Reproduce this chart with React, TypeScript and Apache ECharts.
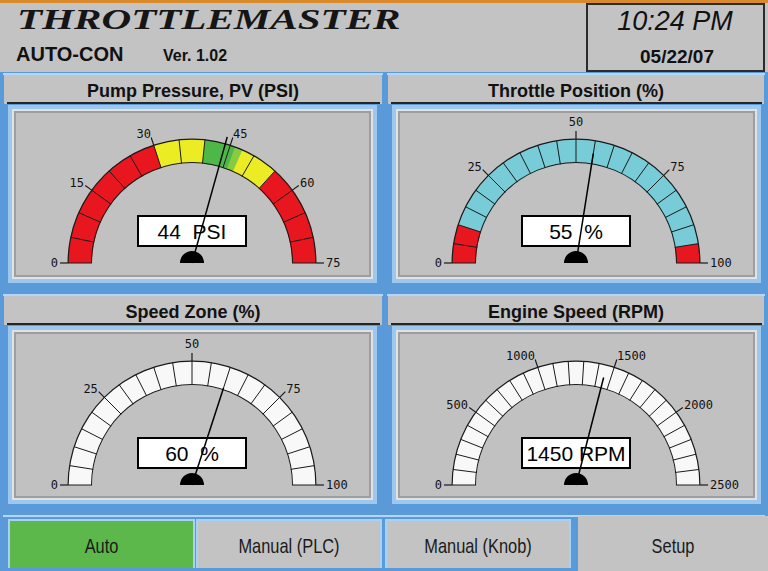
import React, { useEffect, useRef } from 'react';
import * as echarts from 'echarts';

// ---------- data ----------
const gaugeTitles = ['Pump Pressure, PV (PSI)', 'Throttle Position (%)', 'Speed Zone (%)', 'Engine Speed (RPM)'];
const gaugeValues = [44, 55, 60, 1450];
const gaugeMax = [75, 100, 100, 2500];
const majorStep = [15, 25, 25, 500];
const segmentStep = [5, 5, 5, 100];
const gaugeUnits = ['PSI', '%', '%', 'RPM'];
const unitGaps = ['  ', '  ', '  ', ' '];

const RED = '#e8161e';
const YELLOW = '#ecec24';
const GREEN = '#4db848';
const LIGHTGREEN = '#86cc3e';
const CYAN = '#78ccd8';
const WHITE = '#f8f8f8';

const pumpZones: [number, string][] = [[30, RED], [40, YELLOW], [46, GREEN], [47.5, LIGHTGREEN], [55, YELLOW], [75, RED]];
const throttleZones: [number, string][] = [[10, RED], [95, CYAN], [100, RED]];
const speedZones: [number, string][] = [[100, WHITE]];
const engineZones: [number, string][] = [[2500, WHITE]];
const gaugeZones = [pumpZones, throttleZones, speedZones, engineZones];

const headerTitle = 'THROTTLEMASTER';
const productName = 'AUTO-CON';
const versionText = 'Ver. 1.02';
const clockTime = '10:24 PM';
const clockDate = '05/22/07';
const buttonLabels = ['Auto', 'Manual (PLC)', 'Manual (Knob)', 'Setup'];
const activeButton = 0;

// ---------- layout (styles, not data) ----------
const centers = [[192, 263], [576, 263], [192, 485], [576, 485]];
const needleLen = [131, 111, 102, 111];
const boxes = [[12, 109], [396, 109], [12, 330], [396, 330]];
const BOX_W = 361;
const BOX_H = 170;
const panels = [[0, 72, 386, 221], [384, 72, 384, 221], [0, 293, 386, 220], [384, 293, 384, 220]];
const buttonRects = [[10, 521, 183, 47], [198, 521, 182, 47], [387, 521, 182, 47], [578, 516, 190, 55]];

const BG = '#c3c3c3';
const BLUE = '#5b9ad8';
const LIGHTBLUE = '#a9d0f5';
const LINE = '#1a1a1a';
const MONO = '"DejaVu Sans Mono", monospace';
const SANS = '"Liberation Sans", Arial, sans-serif';

function rect(x: number, y: number, w: number, h: number, fill: string, extra: any = {}) {
  return { type: 'rect', shape: { x, y, width: w, height: h }, style: { fill, ...extra }, silent: true, z: 0 };
}
function text(x: number, y: number, t: string, font: string, fill: string, align = 'center', extra: any = {}) {
  return {
    type: 'text', x, y, silent: true, z: 1,
    style: { text: t, font, fill, align, verticalAlign: 'middle' },
    ...extra,
  };
}

function buildGraphics() {
  const els: any[] = [];
  els.push(rect(0, 0, 768, 571, BG));
  els.push(rect(0, 0, 768, 3, '#d98a2a'));
  // clock box
  els.push({ type: 'rect', shape: { x: 587, y: 4, width: 177, height: 67 }, style: { fill: BG, stroke: '#2b2b2b', lineWidth: 2 }, silent: true, z: 0 });
  els.push(text(17, 19, headerTitle, 'italic bold 30px "Liberation Serif", serif', '#151515', 'left', { scaleX: 1.37 }));
  els.push(text(16, 54, productName, `bold 20px ${SANS}`, '#111', 'left'));
  els.push(text(163, 55, versionText, `bold 16px ${SANS}`, '#111', 'left'));
  els.push(text(675, 21, clockTime, `italic 27px ${SANS}`, '#111', 'center'));
  els.push(text(677, 56, clockDate, `bold 19px ${SANS}`, '#111', 'center'));

  panels.forEach(([px, py, pw, ph], i) => {
    const [bx, by] = boxes[i];
    els.push(rect(px, py, pw, ph, BLUE));
    els.push(rect(px + 3, py + 1, pw - 6, 2, '#b5d7f7'));
    els.push(rect(px + 4, py + 3, pw - 8, 29, BG));
    els.push(rect(px + 7, py + 30, pw - 13, 2, '#262626'));
    els.push(rect(bx - 4, by - 4, BOX_W + 8, BOX_H + 8, '#9cc7ef'));
    els.push(rect(bx, by, BOX_W, BOX_H, '#e2e2e2'));
    els.push(rect(bx + 2, by + 2, BOX_W - 4, BOX_H - 4, '#9e9e9e'));
    els.push(rect(bx + 4, by + 4, BOX_W - 8, BOX_H - 8, '#c1c1c1'));
    els.push(text(px + pw / 2, py + 19, gaugeTitles[i], `bold 18px ${SANS}`, '#111', 'center'));
  });

  // button row
  els.push(rect(0, 513, 768, 58, BLUE));
  els.push(rect(3, 515, 762, 2, '#b5d7f7'));
  buttonRects.forEach(([x, y, w, h], i) => {
    if (i < 3) els.push(rect(x - 2, y - 2, w + 4, h + 2, LIGHTBLUE));
    els.push(rect(x, y, w, h, i === activeButton ? '#5cb84a' : BG));
    els.push(text(x + w / 2, 546, buttonLabels[i], `20px ${SANS}`, '#1a1a1a', 'center', { scaleX: 0.82 }));
  });
  return els;
}

function gaugeSeries(i: number) {
  const [cx, cy] = centers[i];
  const max = gaugeMax[i];
  const value = gaugeValues[i];
  const common: any = {
    type: 'gauge', center: [cx, cy], startAngle: 180, endAngle: 0, min: 0, max,
    silent: true, animation: false,
    title: { show: false }, detail: { show: false }, pointer: { show: false }, anchor: { show: false },
    axisTick: { show: false }, axisLabel: { show: false }, splitLine: { show: false },
    axisLine: { show: false, lineStyle: { width: 0 } }, progress: { show: false },
    data: [{ value }],
  };
  const labelFont = { fontFamily: MONO, fontSize: 12, color: '#111', lineHeight: 1 };
  return [
    {
      ...common, z: 2, radius: 124, splitNumber: max / segmentStep[i],
      axisLine: { show: true, lineStyle: { width: 24, color: gaugeZones[i].map(([v, c]) => [v / max, c]) } },
      splitLine: { show: true, length: 24, distance: -24, lineStyle: { color: LINE, width: 1 } },
    },
    { ...common, z: 3, radius: 124.5, axisLine: { show: true, lineStyle: { width: 1.2, color: [[1, LINE]] } } },
    { ...common, z: 3, radius: 101, axisLine: { show: true, lineStyle: { width: 1, color: [[1, LINE]] } } },
    {
      ...common, z: 3, radius: 124, splitNumber: max / majorStep[i],
      splitLine: { show: true, length: 8, distance: -8, lineStyle: { color: LINE, width: 1.2 } },
      axisLabel: {
        show: true, distance: -12, ...labelFont,
        formatter: (v: number) => {
          const ux = Math.cos(Math.PI * (1 - v / max));
          const s = ux < -0.1 ? 'a' : ux > 0.1 ? 'b' : 'c';
          return `{${s}|${v}}`;
        },
        rich: {
          a: { ...labelFont, width: 2, align: 'right' },
          b: { ...labelFont, width: 2, align: 'left' },
          c: { ...labelFont, align: 'center', verticalAlign: 'bottom' },
        },
      },
    },
    {
      ...common, z: 4,
      detail: {
        show: true, offsetCenter: [0, -32], width: 106, height: 28, padding: 0,
        backgroundColor: '#ffffff', borderColor: '#000', borderWidth: 2,
        color: '#000', fontSize: 21, fontFamily: SANS, fontWeight: 'normal', lineHeight: 28,
        valueAnimation: false,
        formatter: (v: number) => `${v}${unitGaps[i]}${gaugeUnits[i]}`,
      },
    },
    {
      ...common, z: 5,
      pointer: { show: true, icon: 'rect', length: needleLen[i], width: 1.5, offsetCenter: [0, 0], itemStyle: { color: '#000' } },
      anchor: {
        show: true, showAbove: true, size: 24, icon: 'path://M0 10A10 10 0 0 1 20 10Z', keepAspect: true,
        offsetCenter: [0, -6], itemStyle: { color: '#000' },
      },
    },
  ];
}

function buildOption() {
  const series: any[] = [];
  for (let i = 0; i < 4; i++) series.push(...gaugeSeries(i));
  return {
    animation: false,
    graphic: { elements: buildGraphics() },
    series,
  };
}

export default function App() {
  const ref = useRef<HTMLDivElement>(null);
  useEffect(() => {
    const chart = echarts.init(ref.current!, null, { renderer: 'svg', width: 768, height: 571 });
    chart.setOption(buildOption() as any);
    return () => chart.dispose();
  }, []);
  return <div ref={ref} style={{ position: 'absolute', left: 0, top: 0, width: 768, height: 571 }} />;
}
